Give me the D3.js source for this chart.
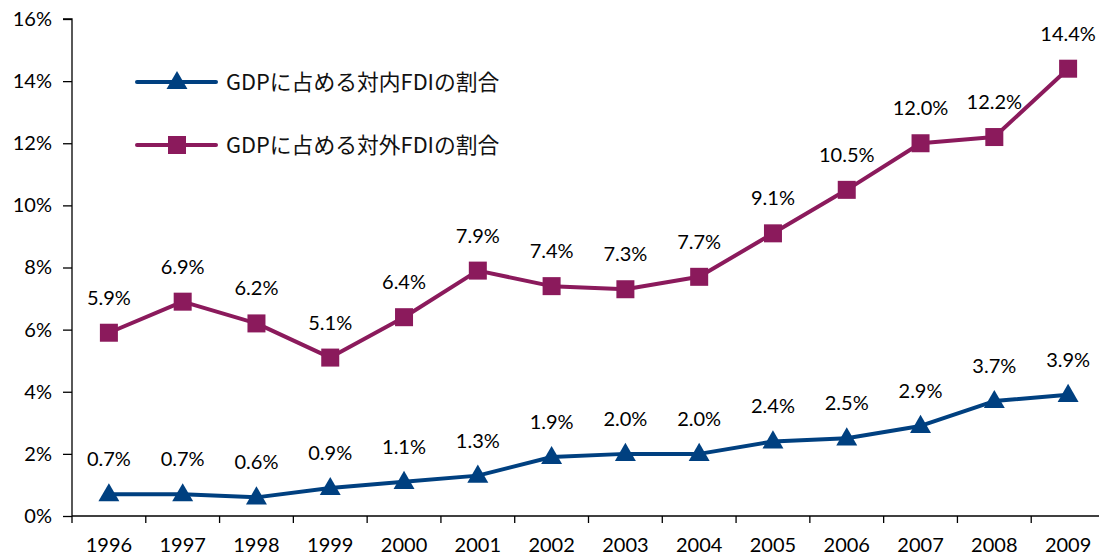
<!DOCTYPE html>
<html>
<head>
<meta charset="utf-8">
<script src="https://cdn.jsdelivr.net/npm/d3@7"></script>
<style>
  body { margin: 0; background: #fff; }
  svg { display: block; }
  .axis text { font-family: Lato, "Open Sans", sans-serif; font-size: 20px; fill: #000; }
  .axis path, .axis line { stroke: #000; stroke-width: 1.3; }
</style>
</head>
<body>
<div id="chart"></div>
<script>
const width = 1099;
const height = 556;

const years = ["1996","1997","1998","1999","2000","2001","2002","2003","2004","2005","2006","2007","2008","2009"];
const inward = [0.7, 0.7, 0.6, 0.9, 1.1, 1.3, 1.9, 2.0, 2.0, 2.4, 2.5, 2.9, 3.7, 3.9];
const outward = [5.9, 6.9, 6.2, 5.1, 6.4, 7.9, 7.4, 7.3, 7.7, 9.1, 10.5, 12.0, 12.2, 14.4];
const yTicks = [0, 2, 4, 6, 8, 10, 12, 14, 16];
const seriesNames = ["GDPに占める対内FDIの割合", "GDPに占める対外FDIの割合"];

const blue = "#004080";
const purple = "#8b1a5c";

const svg = d3.select("#chart")
    .append("svg")
    .attr("width", width)
    .attr("height", height);

const x = d3.scaleBand()
    .domain(years)
    .range([72, 1105])
    .padding(0);

const y = d3.scaleLinear()
    .domain([0, 16])
    .range([516, 19]);

// axes
svg.append("g")
    .attr("class", "axis")
    .attr("transform", "translate(72,0)")
    .call(d3.axisLeft(y).tickValues(yTicks).tickSize(9).tickPadding(11).tickFormat(d => d + "%"))
    .call(g => g.select(".domain").attr("d", "M-9,19H0V523"));

const xAxis = svg.append("g")
    .attr("class", "axis")
    .attr("transform", "translate(0,516)");
xAxis.append("line")
    .attr("x1", 72).attr("x2", 1105)
    .attr("stroke", "#000").attr("stroke-width", 1.3);
xAxis.selectAll(".tk")
    .data(years.slice(1))
    .enter()
    .append("line")
    .attr("class", "tk")
    .attr("x1", d => x(d)).attr("x2", d => x(d))
    .attr("y1", 0).attr("y2", 7)
    .attr("stroke", "#000").attr("stroke-width", 1.3);
xAxis.selectAll("text")
    .data(years)
    .enter()
    .append("text")
    .attr("x", d => x(d) + x.bandwidth() / 2)
    .attr("y", 36)
    .attr("text-anchor", "middle")
    .text(d => d);

const cx = d => x(d) + x.bandwidth() / 2;

const line = d3.line()
    .x((d, i) => cx(years[i]))
    .y(d => y(d));

const tri = d3.symbol().type(d3.symbolTriangle).size(190);

function drawSeries(values, color, marker) {
    svg.append("path")
        .datum(values)
        .attr("fill", "none")
        .attr("stroke", color)
        .attr("stroke-width", 4)
        .attr("stroke-linejoin", "round")
        .attr("d", line);

    if (marker === "tri") {
        svg.selectAll(null)
            .data(values)
            .enter()
            .append("path")
            .attr("d", tri)
            .attr("transform", (d, i) => `translate(${cx(years[i])},${y(d) + 1})`)
            .attr("fill", color);
    } else {
        svg.selectAll(null)
            .data(values)
            .enter()
            .append("rect")
            .attr("x", (d, i) => cx(years[i]) - 9)
            .attr("y", d => y(d) - 9)
            .attr("width", 18)
            .attr("height", 18)
            .attr("fill", color);
    }

    svg.selectAll(null)
        .data(values)
        .enter()
        .append("text")
        .attr("x", (d, i) => cx(years[i]))
        .attr("y", d => y(d) - 28)
        .attr("text-anchor", "middle")
        .attr("font-family", "Lato, 'Open Sans', sans-serif")
        .attr("font-size", 20)
        .text(d => d.toFixed(1) + "%");
}

drawSeries(inward, blue, "tri");
drawSeries(outward, purple, "sq");

// legend
const legend = [
    { name: seriesNames[0], color: blue, marker: "tri", y: 82 },
    { name: seriesNames[1], color: purple, marker: "sq", y: 145 }
];

legend.forEach(l => {
    const g = svg.append("g");
    g.append("line")
        .attr("x1", 137).attr("x2", 216)
        .attr("y1", l.y).attr("y2", l.y)
        .attr("stroke", l.color)
        .attr("stroke-width", 4)
        .attr("stroke-linecap", "round");
    if (l.marker === "tri") {
        g.append("path").attr("d", tri).attr("transform", `translate(177,${l.y + 1})`).attr("fill", l.color);
    } else {
        g.append("rect").attr("x", 168).attr("y", l.y - 9).attr("width", 18).attr("height", 18).attr("fill", l.color);
    }
    g.append("text")
        .attr("x", 226)
        .attr("y", l.y)
        .attr("dy", "0.36em")
        .attr("font-family", "'Noto Sans CJK JP', sans-serif")
        .attr("font-size", 21.8)
        .attr("fill", "#111")
        .text(l.name);
});
</script>
</body>
</html>
